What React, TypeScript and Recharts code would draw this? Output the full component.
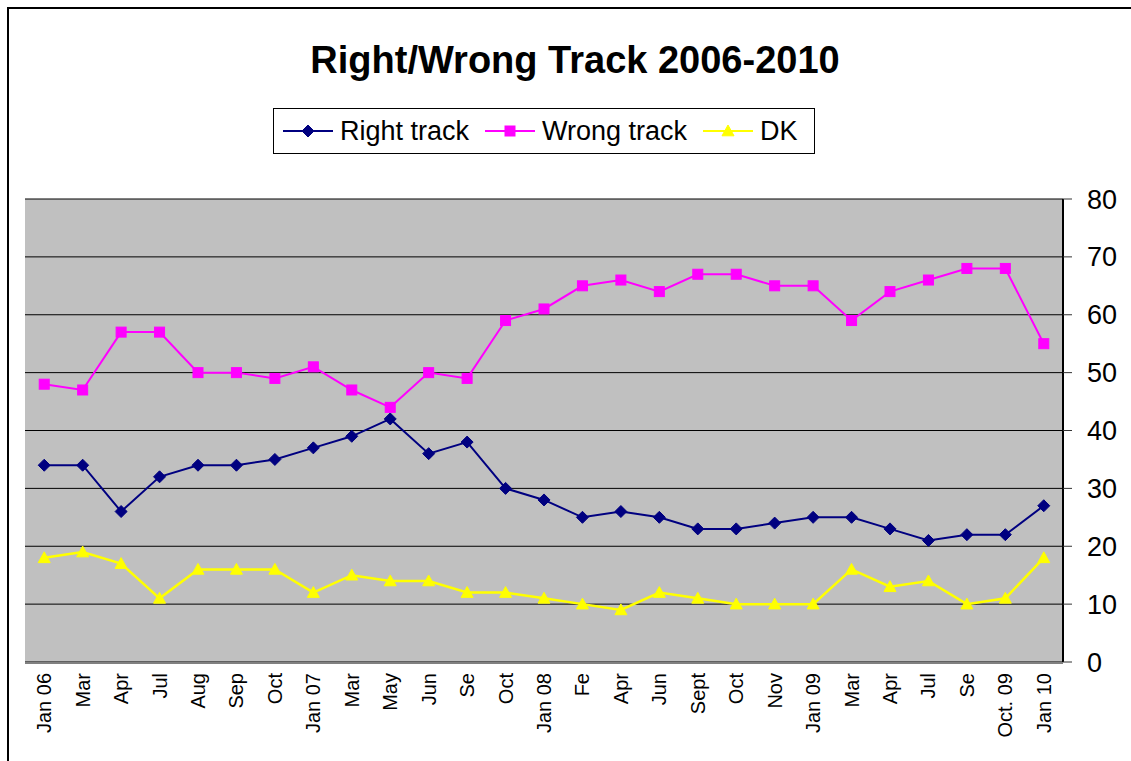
import React from 'react';
import { LineChart, Line, XAxis, YAxis, CartesianGrid, Legend, ReferenceArea } from 'recharts';

const categories = ['Jan 06', 'Mar', 'Apr', 'Jul', 'Aug', 'Sep', 'Oct', 'Jan 07', 'Mar', 'May', 'Jun', 'Se', 'Oct', 'Jan 08', 'Fe', 'Apr', 'Jun', 'Sept', 'Oct', 'Nov', 'Jan 09', 'Mar', 'Apr', 'Jul', 'Se', 'Oct. 09', 'Jan 10'];
const rightTrack = [34, 34, 26, 32, 34, 34, 35, 37, 39, 42, 36, 38, 30, 28, 25, 26, 25, 23, 23, 24, 25, 25, 23, 21, 22, 22, 27];
const wrongTrack = [48, 47, 57, 57, 50, 50, 49, 51, 47, 44, 50, 49, 59, 61, 65, 66, 64, 67, 67, 65, 65, 59, 64, 66, 68, 68, 55];
const dkValues = [18, 19, 17, 11, 16, 16, 16, 12, 15, 14, 14, 12, 12, 11, 10, 9, 12, 11, 10, 10, 10, 16, 13, 14, 10, 11, 18];
const yTicks = [0, 10, 20, 30, 40, 50, 60, 70, 80];
const legendOrder = ['right', 'wrong', 'dk'];

const catTicks = categories.map((_, i) => i);
const edgeTicks = categories.map((_, i) => i - 0.5).concat([categories.length - 0.5]);
const xDomain = [-0.5, categories.length - 0.5];

const data = categories.map((label, i) => ({
  idx: i,
  label,
  right: rightTrack[i],
  wrong: wrongTrack[i],
  dk: dkValues[i],
}));

const FONT = '"Liberation Sans", Arial, Helvetica, sans-serif';
const NAVY = '#000080';
const MAGENTA = '#FF00FF';
const YELLOW = '#FFFF00';

const Diamond = ({ cx, cy, s = 6 }: any) =>
  cx == null || cy == null ? null : (
    <polygon points={`${cx},${cy - s} ${cx + s},${cy} ${cx},${cy + s} ${cx - s},${cy}`} fill={NAVY} stroke={NAVY} strokeWidth={1} />
  );
const Square = ({ cx, cy, s = 5 }: any) =>
  cx == null || cy == null ? null : (
    <rect x={cx - s} y={cy - s} width={2 * s} height={2 * s} fill={MAGENTA} stroke={MAGENTA} strokeWidth={1} />
  );
const Triangle = ({ cx, cy, s = 6 }: any) =>
  cx == null || cy == null ? null : (
    <polygon points={`${cx},${cy - s} ${cx + s},${cy + s * 0.8} ${cx - s},${cy + s * 0.8}`} fill={YELLOW} stroke={YELLOW} strokeWidth={1} />
  );

const renderDiamond = (p: any) => <Diamond key={`d${p.index}`} cx={p.cx} cy={p.cy} />;
const renderSquare = (p: any) => <Square key={`s${p.index}`} cx={p.cx} cy={p.cy} />;
const renderTriangle = (p: any) => <Triangle key={`t${p.index}`} cx={p.cx} cy={p.cy} />;

const XTick = (props: any) => {
  const { x, y, payload } = props;
  const ty = y + 2;
  return (
    <text
      x={x}
      y={ty}
      transform={`rotate(-90, ${x}, ${ty})`}
      textAnchor="end"
      dy="0.35em"
      fontSize={20}
      fontFamily={FONT}
      fill="#000"
    >
      {categories[payload.value]}
    </text>
  );
};

const markerFor = (key: string, cx: number, cy: number) => {
  if (key === 'right') return <Diamond cx={cx} cy={cy} s={6} />;
  if (key === 'wrong') return <Square cx={cx} cy={cy} s={5} />;
  return <Triangle cx={cx} cy={cy} s={6} />;
};

const renderLegend = (props: any) => {
  const payload = [...(props.payload || [])].sort(
    (a: any, b: any) => legendOrder.indexOf(a.dataKey) - legendOrder.indexOf(b.dataKey)
  );
  return (
    <div
      style={{
        border: '1px solid #000',
        boxSizing: 'border-box',
        width: 542,
        height: 46,
        display: 'flex',
        alignItems: 'center',
        paddingLeft: 9,
        background: '#fff',
        fontFamily: FONT,
      }}
    >
      {payload.map((entry: any, i: number) => (
        <div key={i} style={{ display: 'flex', alignItems: 'center', marginRight: 16 }}>
          <svg width={50} height={20} style={{ display: 'block' }}>
            <line x1={0} y1={10} x2={50} y2={10} stroke={entry.color} strokeWidth={2} />
            {markerFor(entry.dataKey, 25, 10)}
          </svg>
          <span style={{ fontSize: 27, marginLeft: 7, lineHeight: '30px', color: '#000' }}>{entry.value}</span>
        </div>
      ))}
    </div>
  );
};

export default function App() {
  return (
    <div style={{ position: 'absolute', left: 0, top: 0, width: 1131, height: 761, overflow: 'hidden', background: '#fff' }}>
      <div
        style={{
          position: 'absolute',
          left: 7,
          top: 7,
          width: 1200,
          height: 800,
          borderTop: '2px solid #000',
          borderLeft: '2px solid #000',
        }}
      />
      <div
        style={{
          position: 'absolute',
          left: 0,
          top: 41,
          width: 1150,
          textAlign: 'center',
          fontFamily: FONT,
          fontWeight: 'bold',
          fontSize: 38,
          lineHeight: '38px',
          color: '#000',
        }}
      >
        Right/Wrong Track 2006-2010
      </div>
      <div style={{ position: 'absolute', left: 0, top: 0 }}>
        <LineChart width={1131} height={761} data={data} margin={{ top: 199, right: 0, bottom: 0, left: 25 }}>
          <CartesianGrid xAxisId="lab" vertical={false} stroke="#000" strokeOpacity={1} fill="#C0C0C0" fillOpacity={1} />
          <XAxis
            xAxisId="edge"
            type="number"
            domain={xDomain}
            ticks={edgeTicks}
            tick={false}
            tickSize={5}
            tickLine={{ stroke: '#333', strokeWidth: 1 }}
            axisLine={false}
            height={1}
            allowDataOverflow
          />
          <XAxis
            xAxisId="lab"
            dataKey="idx"
            type="number"
            domain={xDomain}
            ticks={catTicks}
            interval={0}
            height={98}
            tick={<XTick />}
            tickLine={false}
            axisLine={{ stroke: '#808080', strokeWidth: 2 }}
            allowDataOverflow
          />
          <YAxis
            orientation="right"
            width={68}
            domain={[0, 80]}
            ticks={yTicks}
            interval={0}
            tickSize={9}
            tickMargin={15}
            axisLine={{ stroke: '#000', strokeWidth: 2 }}
            tickLine={{ stroke: '#333' }}
            tick={{ fontSize: 27, fontFamily: FONT, fill: '#000', textAnchor: 'start' }}
          />
          <ReferenceArea xAxisId="edge" x1={xDomain[0]} x2={xDomain[1]} y1={0} y2={80} fill="none" stroke="#808080" strokeWidth={2} />
          <Legend
            layout="horizontal"
            verticalAlign="middle"
            align="center"
            content={renderLegend}
            wrapperStyle={{ top: 108, left: 273, width: 542, height: 46, bottom: 'auto', right: 'auto', margin: 0 }}
          />
          <Line xAxisId="lab" type="linear" dataKey="right" name="Right track" stroke={NAVY} strokeWidth={2} dot={renderDiamond} activeDot={false} isAnimationActive={false} />
          <Line xAxisId="lab" type="linear" dataKey="wrong" name="Wrong track" stroke={MAGENTA} strokeWidth={2} dot={renderSquare} activeDot={false} isAnimationActive={false} />
          <Line xAxisId="lab" type="linear" dataKey="dk" name="DK" stroke={YELLOW} strokeWidth={2.5} dot={renderTriangle} activeDot={false} isAnimationActive={false} />
        </LineChart>
      </div>
    </div>
  );
}
